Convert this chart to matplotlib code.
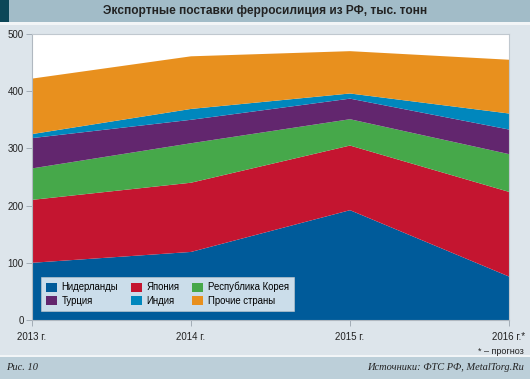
import matplotlib
matplotlib.use("Agg")
import matplotlib.pyplot as plt
from matplotlib.patches import Rectangle, Patch
import numpy as np

years = ["2013 г.", "2014 г.", "2015 г.", "2016 г.*"]
series_names = ["Нидерланды", "Япония", "Республика Корея", "Турция", "Индия", "Прочие страны"]
netherlands = [100, 119, 192, 76]
japan = [110, 121, 113, 148]
korea = [55, 69, 46, 66]
turkey = [53, 41, 36, 43]
india = [7, 19, 9, 28]
others = [97, 92, 74, 94]
colors = ["#005b9a", "#c41530", "#46a84a", "#62266e", "#0087bd", "#e8901e"]

W, H = 530, 379
fig = plt.figure(figsize=(W/100, H/100), dpi=100)
fig.patch.set_facecolor("#dde5eb")

def fx(px): return px / W
def fy(py): return 1 - py / H

# title bar
fig.patches.append(Rectangle((0, fy(22)), 1, 22/H, transform=fig.transFigure, facecolor="#a2bcc8", edgecolor="none", zorder=0))
fig.patches.append(Rectangle((0, fy(22)), fx(9), 22/H, transform=fig.transFigure, facecolor="#0c4758", edgecolor="none", zorder=1))
fig.patches.append(Rectangle((0, fy(25)), 1, 3/H, transform=fig.transFigure, facecolor="#f2f5f7", edgecolor="none", zorder=0))
fig.text(0.5, fy(11), "Экспортные поставки ферросилиция из РФ, тыс. тонн", ha="center", va="center",
         fontsize=8.6, fontweight="bold", color="#222222", family="Liberation Sans")
# bottom bar
fig.patches.append(Rectangle((0, 0), 1, 22/H, transform=fig.transFigure, facecolor="#bccfd9", edgecolor="none", zorder=0))
fig.patches.append(Rectangle((0, 22/H), 1, 2/H, transform=fig.transFigure, facecolor="#f2f5f7", edgecolor="none", zorder=0))
fig.text(fx(6), fy(368), "Рис. 10", ha="left", va="center", fontsize=7.5, style="italic", family="Liberation Serif", color="#222222")
fig.text(fx(524), fy(368), "Источники: ФТС РФ, MetalTorg.Ru", ha="right", va="center", fontsize=7.5, style="italic", family="Liberation Serif", color="#222222")
fig.text(fx(524), fy(351), "* – прогноз", ha="right", va="center", fontsize=6.5, family="Liberation Sans", color="#222222")

ax = fig.add_axes([fx(32), fy(320), fx(509) - fx(32), (320 - 34)/H])
ax.set_facecolor("white")
x = np.arange(len(years))
ax.stackplot(x, netherlands, japan, korea, turkey, india, others, colors=colors, linewidth=0)
ax.set_xlim(0, 3)
ax.set_ylim(0, 500)
ax.set_yticks([0, 100, 200, 300, 400, 500])
ax.set_xticks(x)
ax.set_xticklabels(years)
for s in ["top", "right"]:
    ax.spines[s].set_color("#c0c8cf")
    ax.spines[s].set_linewidth(0.8)
for s in ["left", "bottom"]:
    ax.spines[s].set_color("#b0b8c0")
    ax.spines[s].set_linewidth(0.8)
ax.tick_params(axis="both", labelsize=7, colors="#222222", length=4, width=0.6, color="#9aa4ad")
ax.tick_params(axis="y", pad=2)
ax.tick_params(axis="x", pad=5)
for lbl in ax.get_xticklabels() + ax.get_yticklabels():
    lbl.set_family("Liberation Sans")

order = [0, 3, 1, 4, 2, 5]
handles = [Patch(facecolor=colors[i], edgecolor="none") for i in order]
labels = [series_names[i] for i in order]
leg = ax.legend(handles, labels, ncol=3, loc="lower left", bbox_to_anchor=((41 - 32) / 477, 9/286),
                borderaxespad=0, frameon=True, fancybox=False, borderpad=0.55, handlelength=1.1, handleheight=1.1,
                handletextpad=0.5, columnspacing=1.35, labelspacing=0.35, prop={"family": "Liberation Sans", "size": 6.9})
leg.get_frame().set_edgecolor("#cccccc")
leg.get_frame().set_linewidth(0.5)

fig.savefig("out.png", dpi=100, facecolor=fig.get_facecolor())
